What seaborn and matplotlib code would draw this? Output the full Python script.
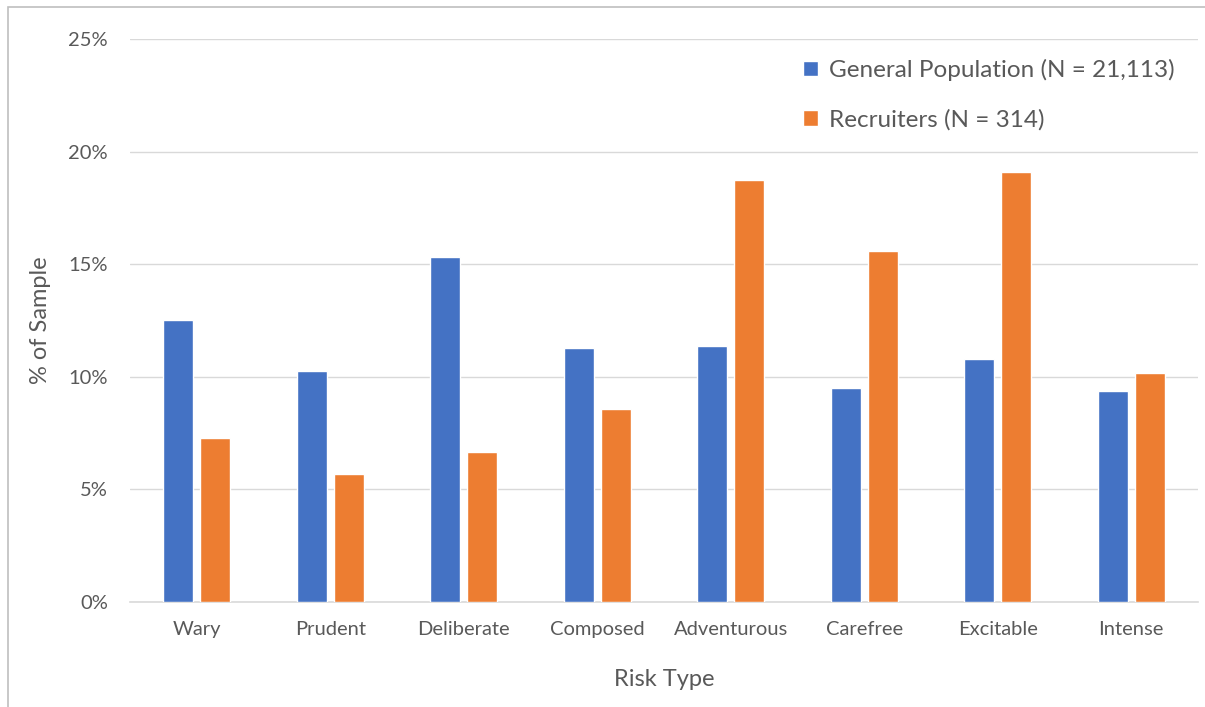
import pandas as pd
import matplotlib.pyplot as plt
import seaborn as sns
from matplotlib.patches import Rectangle
from matplotlib.ticker import FuncFormatter

risk_types = ['Wary', 'Prudent', 'Deliberate', 'Composed', 'Adventurous',
              'Carefree', 'Excitable', 'Intense']
general_pop = [12.53, 10.27, 15.31, 11.29, 11.37, 9.51, 10.77, 9.37]
recruiters = [7.29, 5.70, 6.67, 8.55, 18.76, 15.59, 19.10, 10.17]
series_names = ['General Population (N = 21,113)', 'Recruiters (N = 314)']
y_ticks = [0, 5, 10, 15, 20, 25]

df = pd.DataFrame({
    'Risk Type': risk_types * 2,
    'Pct': general_pop + recruiters,
    'Group': [series_names[0]] * len(risk_types) + [series_names[1]] * len(risk_types),
})

sns.set_theme(style='white')
plt.rcParams['font.family'] = ['Lato', 'DejaVu Sans']
grey = '#595959'

fig = plt.figure(figsize=(12.05, 7.07), dpi=100)
ax = fig.add_axes([130 / 1205, 1 - 602 / 707, (1198 - 130) / 1205, (602 - 39) / 707])

sns.barplot(data=df, x='Risk Type', y='Pct', hue='Group', order=risk_types,
            hue_order=series_names, palette=['#4472C4', '#ED7D31'],
            width=0.56, gap=0.2, saturation=1, ax=ax, zorder=3)

ax.set_xlim(-0.5, len(risk_types) - 0.5)
ax.set_ylim(0, 25)
ax.set_yticks(y_ticks)
ax.yaxis.set_major_formatter(FuncFormatter(lambda v, p: f'{v:.0f}%'))
ax.grid(axis='y', color='#d9d9d9', linewidth=1, zorder=0)
ax.set_axisbelow(True)
for s in ['top', 'right', 'left']:
    ax.spines[s].set_visible(False)
ax.spines['bottom'].set_color('#d9d9d9')
ax.spines['bottom'].set_linewidth(1.2)
ax.tick_params(axis='both', length=0, labelsize=14.5, labelcolor=grey)
ax.tick_params(axis='y', pad=16)
ax.tick_params(axis='x', pad=14)

ax.set_xlabel('Risk Type', fontsize=17, color=grey, labelpad=22)
ax.set_ylabel('% of Sample', fontsize=17, color=grey, labelpad=12)

handles, labels = ax.get_legend_handles_labels()
ax.legend(handles, labels, loc='upper left', bbox_to_anchor=(803 / 1205, 1 - 59 / 707),
          bbox_transform=fig.transFigure, frameon=False, fontsize=17.5,
          handlelength=0.6, handleheight=0.6, handletextpad=0.45,
          labelspacing=1.15, borderpad=0, borderaxespad=0, labelcolor=grey)

# thin grey chart border (left and top visible)
fig.patches.append(Rectangle((8 / 1205, -0.05), 1.1, 1 - 7 / 707 + 0.05,
                             transform=fig.transFigure, fill=False,
                             edgecolor='#bfbfbf', linewidth=1.2, clip_on=False))

fig.savefig('out.png', dpi=100)
